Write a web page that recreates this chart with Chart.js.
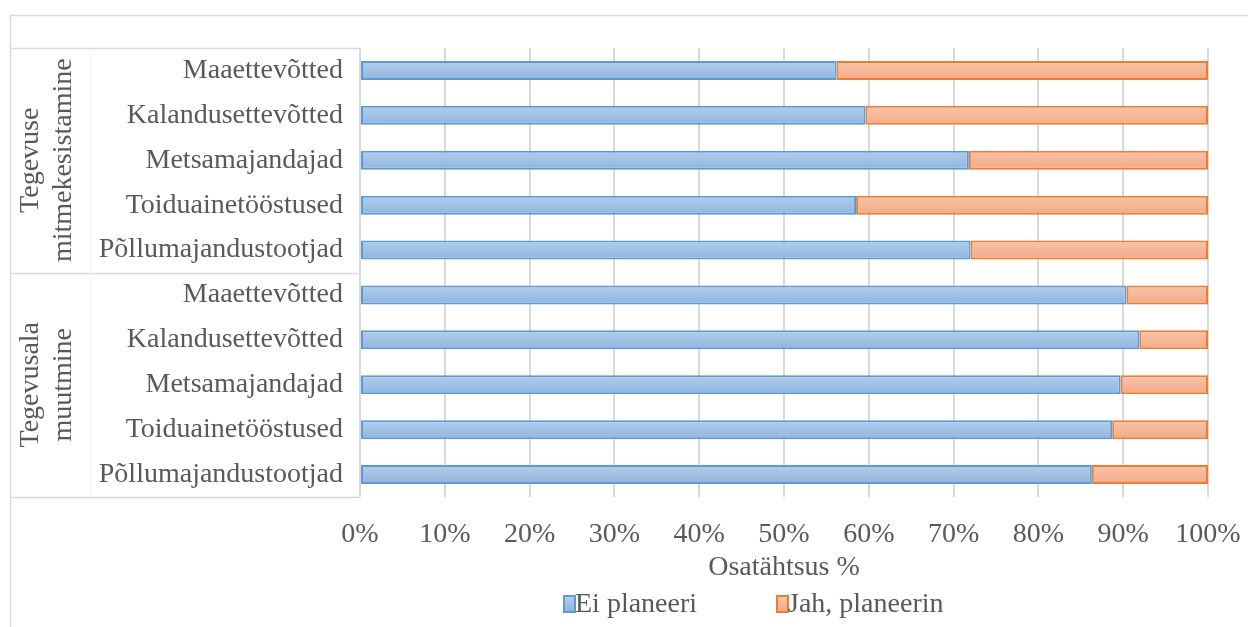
<!DOCTYPE html>
<html lang="et">
<head>
<meta charset="utf-8">
<title>Osatähtsus %</title>
<script src="https://cdn.jsdelivr.net/npm/chart.js@4/dist/chart.umd.min.js"></script>
<style>
  html, body { margin: 0; padding: 0; background: #ffffff; }
  #wrap { position: relative; width: 1248px; height: 627px; overflow: hidden; }
  #chart { position: absolute; left: 0; top: 0; }
  #legend {
    position: absolute; left: 0; top: 586px; width: 1248px; height: 34px;
    font-family: 'Liberation Serif', serif; font-size: 28px; color: #595959;
  }
  #legend .item { position: absolute; top: 0; height: 34px; line-height: 34px; white-space: nowrap; }
  #legend .box {
    position: absolute; top: 9px; left: 0; width: 9px; height: 14px;
    border: 2px solid; box-sizing: content-box;
  }
  #legend .txt { position: absolute; left: 12px; top: 0; }
</style>
</head>
<body>
<div id="wrap">
  <canvas id="chart" width="1248" height="627"></canvas>
  <div id="legend"></div>
</div>
<script>
// Row categories, listed top to bottom
const categories = [
  'Maaettevõtted', 'Kalandusettevõtted', 'Metsamajandajad', 'Toiduainetööstused', 'Põllumajandustootjad',
  'Maaettevõtted', 'Kalandusettevõtted', 'Metsamajandajad', 'Toiduainetööstused', 'Põllumajandustootjad'
];
// Group headings, each spanning five consecutive rows
const groupLabels = [['Tegevuse', 'mitmekesistamine'], ['Tegevusala', 'muutmine']];
const groupSize = 5;

const seriesNames = ['Ei planeeri', 'Jah, planeerin'];
const eiPlaneeri   = [56.2, 59.6, 71.8, 58.5, 72.0, 90.4, 91.9, 89.7, 88.7, 86.3];
const jahPlaneerin = [43.8, 40.4, 28.2, 41.5, 28.0,  9.6,  8.1, 10.3, 11.3, 13.7];

const xTicks = [0, 10, 20, 30, 40, 50, 60, 70, 80, 90, 100];
const xTitle = 'Osatähtsus %';

const FONT = "'Liberation Serif', serif";
const TEXT = '#595959';
const LINE = '#d9d9d9';
const BAR_PCT = 0.423;

const blue   = { top: '#b3cdea', mid: '#a2c1e6', bottom: '#90b5e0', border: '#5b9bd5' };
const orange = { top: '#f8c5a9', mid: '#f6b797', bottom: '#f3a985', border: '#ed7d31' };

// Vertical gradient per bar, like an Office gradient fill
function barFill(pal) {
  return function (ctx) {
    const chart = ctx.chart;
    const ys = chart.scales && chart.scales.y;
    if (ctx.type !== 'data' || !ys || !chart.chartArea) return pal.mid;
    const rowH = ys.height / chart.data.labels.length;
    const h = rowH * BAR_PCT;
    const yc = ys.getPixelForValue(ctx.dataIndex);
    const g = chart.ctx.createLinearGradient(0, yc - h / 2, 0, yc + h / 2);
    g.addColorStop(0, pal.top);
    g.addColorStop(1, pal.bottom);
    return g;
  };
}

// Frame, row-group table and rotated group headings
const tablePlugin = {
  id: 'groupTable',
  beforeDraw(chart) {
    const c = chart.ctx;
    const area = chart.chartArea;
    const ys = chart.scales.y;
    const n = chart.data.labels.length;
    const rowH = ys.height / n;
    const left = 10, split = 90, right = area.left;
    c.save();
    c.strokeStyle = LINE;
    c.lineWidth = 1.5;
    // outer frame
    c.strokeRect(left + 0.5, 15.5, 1400, 800);
    // table outline and group separators
    c.beginPath();
    for (let g = 0; g <= groupLabels.length; g++) {
      const y = Math.round(area.top + g * groupSize * rowH) + 0.5;
      c.moveTo(left, y); c.lineTo(right, y);
    }
    c.stroke();
    c.strokeStyle = '#f0f0f0';
    c.lineWidth = 1;
    c.beginPath();
    c.moveTo(split + 0.5, area.top); c.lineTo(split + 0.5, area.bottom);
    c.stroke();
    // group headings
    c.fillStyle = TEXT;
    c.font = '28px ' + FONT;
    c.textAlign = 'center';
    c.textBaseline = 'middle';
    groupLabels.forEach((lines, g) => {
      const yc = area.top + (g + 0.5) * groupSize * rowH;
      c.save();
      c.translate((left + split) / 2 - 3, yc);
      c.rotate(-Math.PI / 2);
      const gap = 33;
      lines.forEach((t, i) => {
        c.fillText(t, 0, (i - (lines.length - 1) / 2) * gap);
      });
      c.restore();
    });
    c.restore();
  }
};

// Legend built as HTML from the chart's datasets
const htmlLegend = {
  id: 'htmlLegend',
  afterUpdate(chart) {
    const host = document.getElementById('legend');
    host.innerHTML = '';
    const pals = [blue, orange];
    const lefts = [563, 776];
    chart.data.datasets.forEach((ds, i) => {
      const item = document.createElement('div');
      item.className = 'item';
      item.style.left = lefts[i] + 'px';
      const box = document.createElement('span');
      box.className = 'box';
      box.style.borderColor = pals[i].border;
      box.style.background = 'linear-gradient(' + pals[i].top + ',' + pals[i].bottom + ')';
      const txt = document.createElement('span');
      txt.className = 'txt';
      txt.textContent = ds.label;
      item.appendChild(box);
      item.appendChild(txt);
      host.appendChild(item);
    });
  }
};

new Chart(document.getElementById('chart'), {
  type: 'bar',
  data: {
    labels: categories,
    datasets: [
      {
        label: seriesNames[0], data: eiPlaneeri,
        backgroundColor: barFill(blue), borderColor: blue.border,
        borderWidth: 2, borderSkipped: false,
        barPercentage: BAR_PCT, categoryPercentage: 1
      },
      {
        label: seriesNames[1], data: jahPlaneerin,
        backgroundColor: barFill(orange), borderColor: orange.border,
        borderWidth: 2, borderSkipped: false,
        barPercentage: BAR_PCT, categoryPercentage: 1
      }
    ]
  },
  options: {
    indexAxis: 'y',
    responsive: false,
    animation: false,
    layout: { padding: { left: 10, right: 40, top: 48, bottom: 45 } },
    plugins: { legend: { display: false }, tooltip: { enabled: false } },
    scales: {
      x: {
        stacked: true, min: 0, max: 100,
        afterBuildTicks(scale) { scale.ticks = xTicks.map(v => ({ value: v })); },
        afterFit(scale) {
          scale.height = 85;
          scale.paddingLeft = 0;
          scale.paddingRight = 40;
        },
        ticks: {
          callback: v => v + '%',
          color: TEXT, padding: 24, maxRotation: 0,
          font: { family: FONT, size: 28, lineHeight: 1 }
        },
        grid: { color: LINE, lineWidth: 2, drawTicks: false },
        border: { display: false },
        title: {
          display: true, text: xTitle, color: TEXT,
          padding: { top: 5, bottom: 0 },
          font: { family: FONT, size: 28, lineHeight: 1 }
        }
      },
      y: {
        stacked: true,
        afterFit(scale) { scale.width = 350; },
        ticks: {
          color: TEXT, padding: 17, autoSkip: false,
          font: { family: FONT, size: 28, lineHeight: 1 }
        },
        grid: { display: false, drawTicks: false },
        border: { display: false }
      }
    }
  },
  plugins: [tablePlugin, htmlLegend]
});
</script>
</body>
</html>
